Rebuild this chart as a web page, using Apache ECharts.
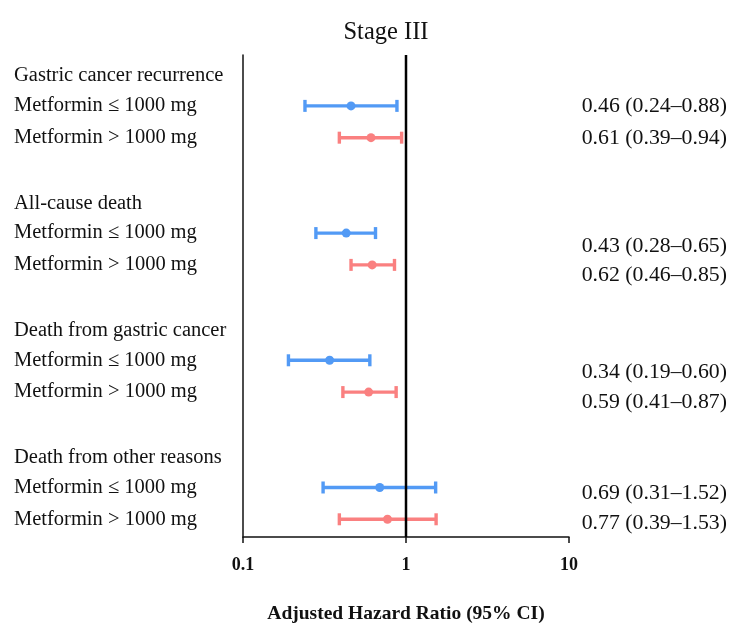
<!DOCTYPE html>
<html>
<head>
<meta charset="utf-8">
<script src="https://cdn.jsdelivr.net/npm/echarts@6/dist/echarts.min.js"></script>
<style>html,body{margin:0;padding:0;background:#fff}#c{width:729px;height:623px}</style>
</head>
<body>
<div id="c"></div>
<script>
// ---- data ----
const outcomes = ["Gastric cancer recurrence", "All-cause death", "Death from gastric cancer", "Death from other reasons"];
const doses = ["Metformin \u2264 1000 mg", "Metformin > 1000 mg"];
const hrLowDose = [0.46, 0.43, 0.34, 0.69];
const ciLoLowDose = [0.24, 0.28, 0.19, 0.31];
const ciHiLowDose = [0.88, 0.65, 0.60, 1.52];
const hrHighDose = [0.61, 0.62, 0.59, 0.77];
const ciLoHighDose = [0.39, 0.46, 0.41, 0.39];
const ciHiHighDose = [0.94, 0.85, 0.87, 1.53];
const xTicks = [0.1, 1, 10];

// ---- styles ----
const FONT = "Liberation Serif";
const colors = ["#529af5", "#fa8080"];
const textNudge = [[0, 1], [13, 10], [12, 10], [6, 4]]; // px shift of right-hand text

const rows = [];
outcomes.forEach((o, g) => {
  rows.push([4 * g + 1, hrLowDose[g], ciLoLowDose[g], ciHiLowDose[g], 0, g]);
  rows.push([4 * g + 2, hrHighDose[g], ciLoHighDose[g], ciHiHighDose[g], 1, g]);
});
const headers = outcomes.map((o, g) => [4 * g, o]);

const fmt = v => v.toFixed(2);

const chart = echarts.init(document.getElementById('c'), null, {renderer: 'canvas'});
chart.setOption({
  animation: false,
  title: {
    text: "Stage III", left: 381, top: 15, textAlign: 'center',
    textStyle: {fontFamily: FONT, fontSize: 24.5, fontWeight: 'normal', color: '#111'}
  },
  grid: {left: 243, right: 160, top: 55, bottom: 86, outerBoundsMode: 'none', containLabel: false},
  xAxis: {
    type: 'log', logBase: 10, min: 0.1, max: 10,
    axisLine: {show: true, onZero: false, lineStyle: {color: '#111', width: 1.5}},
    axisTick: {show: true, length: 6, lineStyle: {color: '#111', width: 1.5}},
    axisLabel: {
      fontFamily: FONT, fontSize: 18, fontWeight: 'bold', color: '#111', margin: 19,
      formatter: v => { const t = xTicks.find(x => Math.abs(x - v) < 1e-9); return t === undefined ? '' : String(t); }
    },
    splitLine: {show: false},
    name: "Adjusted Hazard Ratio (95% CI)", nameLocation: 'middle', nameGap: 67,
    nameTextStyle: {fontFamily: FONT, fontSize: 19.5, fontWeight: 'bold', color: '#111'}
  },
  yAxis: {
    type: 'value', inverse: true, min: -0.6, max: 14.557,
    axisLine: {show: true, onZero: false, lineStyle: {color: '#111', width: 1.5}},
    axisTick: {show: false}, axisLabel: {show: false}, splitLine: {show: false}
  },
  series: [
    {
      type: 'custom', z: 2,
      data: rows,
      renderItem: (params, api) => {
        const row = api.value(0), hr = api.value(1), lo = api.value(2), hi = api.value(3);
        const d = api.value(4), g = api.value(5);
        const pLo = api.coord([lo, row]), pHi = api.coord([hi, row]), pHr = api.coord([hr, row]);
        const c = colors[d];
        const ls = {stroke: c, lineWidth: 3.4};
        const capH = 6;
        const x0 = api.coord([0.1, row])[0];
        const x10 = api.coord([10, row])[0];
        return {
          type: 'group',
          children: [
            {type: 'line', shape: {x1: pLo[0], y1: pLo[1], x2: pHi[0], y2: pHi[1]}, style: ls},
            {type: 'line', shape: {x1: pLo[0], y1: pLo[1] - capH, x2: pLo[0], y2: pLo[1] + capH}, style: ls},
            {type: 'line', shape: {x1: pHi[0], y1: pHi[1] - capH, x2: pHi[0], y2: pHi[1] + capH}, style: ls},
            {type: 'circle', shape: {cx: pHr[0], cy: pHr[1], r: 4.5}, style: {fill: c}},
            {type: 'text', x: x0 - 229, y: pHr[1],
              style: {text: doses[d], font: '20.5px "' + FONT + '"', fill: '#111', textAlign: 'left', textVerticalAlign: 'middle'}},
            {type: 'text', x: x10 + 158, y: pHr[1] + textNudge[g][d],
              style: {text: fmt(hr) + ' (' + fmt(lo) + '\u2013' + fmt(hi) + ')', font: '21.8px "' + FONT + '"', fill: '#111', textAlign: 'right', textVerticalAlign: 'middle'}}
          ]
        };
      }
    },
    {
      type: 'custom', z: 2,
      data: headers,
      encode: {y: 0},
      renderItem: (params, api) => {
        const row = api.value(0);
        const p = api.coord([0.1, row]);
        return {type: 'text', x: p[0] - 229, y: p[1] + 2,
          style: {text: outcomes[params.dataIndex], font: '20.5px "' + FONT + '"', fill: '#111', textAlign: 'left', textVerticalAlign: 'middle'}};
      }
    },
    {
      type: 'custom', z: 5,
      data: [[1]],
      renderItem: (params, api) => {
        const cs = params.coordSys;
        const x = api.coord([api.value(0), 0])[0];
        return {type: 'line', shape: {x1: x, y1: cs.y, x2: x, y2: cs.y + cs.height}, style: {stroke: '#000', lineWidth: 2.5}};
      }
    }
  ]
});
</script>
</body>
</html>
